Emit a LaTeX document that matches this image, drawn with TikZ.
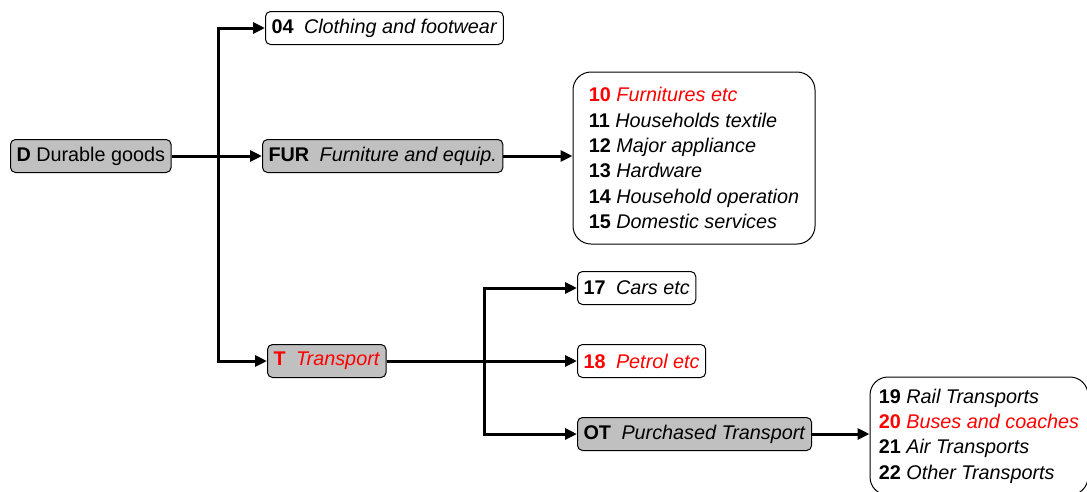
\documentclass[tikz,border=0pt]{standalone}
\usepackage{fontspec}
\setmainfont{Liberation Sans}
\usetikzlibrary{arrows.meta}
\definecolor{boxgray}{RGB}{192,192,192}
\definecolor{hired}{RGB}{255,0,0}
\newcommand\boxlab[2]{\textbf{#1}\hspace{10.5pt}\textit{#2}}
\tikzset{
  box/.style={draw=black, line width=1pt, rounded corners=5pt, minimum height=33pt, inner xsep=6pt, inner ysep=0pt, font=\fontsize{19.8}{25.3}\selectfont, anchor=west, fill=white},
  gbox/.style={box, fill=boxgray},
  listbox/.style={draw=black, line width=1pt, rounded corners=18pt, align=left, inner xsep=12pt, font=\fontsize{19.8}{25.3}\selectfont, fill=white},
  arr/.style={line width=3pt, -{Triangle[length=12pt,width=11pt]}}
}
\begin{document}
\begin{tikzpicture}[x=1pt,y=-1pt]
\useasboundingbox (0,0) rectangle (1087,491);
\clip (0,0) rectangle (1087,491);
\node[gbox] (D) at (10,156) {\textbf{D} Durable goods};
\node[box] (C04) at (265,28) {\boxlab{04}{Clothing and footwear}};
\node[gbox] (FUR) at (262,156) {\boxlab{FUR}{Furniture and equip.}};
\node[gbox, text=hired] (T) at (267,361) {\boxlab{T}{Transport}};
\node[box] (C17) at (577,288) {\boxlab{17}{Cars etc}};
\node[box, text=hired] (C18) at (577,361) {\boxlab{18}{Petrol etc}};
\node[gbox] (OT) at (577,434) {\boxlab{OT}{Purchased Transport}};
\node[listbox, minimum width=242pt, minimum height=172pt] (L1) at (694,158) {%
{\color{hired}\textbf{10} \textit{Furnitures etc}}\\
\textbf{11} \textit{Households textile}\\
\textbf{12} \textit{Major appliance}\\
\textbf{13} \textit{Hardware}\\
\textbf{14} \textit{Household operation}\\
\textbf{15} \textit{Domestic services}};
\node[listbox, minimum width=218pt, minimum height=118pt, inner xsep=8pt] (L2) at (979,436) {%
\textbf{19} \textit{Rail Transports}\\
{\color{hired}\textbf{20} \textit{Buses and coaches}}\\
\textbf{21} \textit{Air Transports}\\
\textbf{22} \textit{Other Transports}};
\coordinate (j1) at (218,156);
\coordinate (j2) at (484,361);
\draw[arr] (D.east) -- (FUR.west);
\draw[arr] (j1) |- (C04.west);
\draw[arr] (j1) |- (T.west);
\draw[arr] (FUR.east) -- (FUR.east -| L1.west);
\draw[arr] (T.east) -- (C18.west);
\draw[arr] (j2) |- (C17.west);
\draw[arr] (j2) |- (OT.west);
\draw[arr] (OT.east) -- (OT.east -| L2.west);
\end{tikzpicture}
\end{document}
